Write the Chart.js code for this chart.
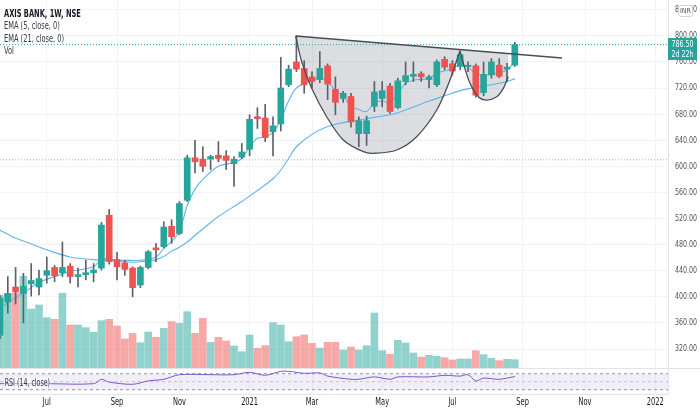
<!DOCTYPE html>
<html>
<head>
<meta charset="utf-8">
<title>AXIS BANK, 1W, NSE</title>
<script src="https://cdn.jsdelivr.net/npm/chart.js"></script>
<style>
  html, body { margin: 0; padding: 0; background: #fff; }
  #wrap { position: relative; width: 700px; height: 413px; overflow: hidden;
          font-family: 'Liberation Sans Narrow', 'DejaVu Sans Condensed', Roboto, sans-serif; }
  #priceChart { position: absolute; left: 0; top: 0; }
  #rsiBox { position: absolute; left: 0; top: 368px; width: 700px; height: 45px;
            border-top: 1px solid #e0e3eb; box-sizing: border-box; }
  .legend { position: absolute; left: 4px; font-size: 10px; line-height: 12px; color: #363a45; white-space: nowrap;
            transform: scaleX(0.74); transform-origin: left center; }
  .legend.title { font-weight: bold; color: #131722; }
  #inr { position: absolute; left: 678px; top: 5px; width: 13px; height: 10px; border: 1px solid #d1d4dc;
         border-radius: 3px; background: #fff; font-size: 7px; line-height: 10px; text-align: center; color: #50535e; }
  #rsiLabel { position: absolute; left: 4px; top: 377px; font-size: 10px; line-height: 12px; color: #363a45;
              background: rgba(255,255,255,0.55); padding: 0 1px; white-space: nowrap;
              transform: scaleX(0.7); transform-origin: left center; }
</style>
</head>
<body>
<div id="wrap">
  <canvas id="priceChart" width="700" height="368"></canvas>
  <div id="rsiBox"><canvas id="rsiChart" width="700" height="44"></canvas></div>
  <div class="legend title" style="top:8px">AXIS BANK, 1W, NSE</div>
  <div class="legend" style="top:20px">EMA (5, close, 0)</div>
  <div class="legend" style="top:33px">EMA (21, close, 0)</div>
  <div class="legend" style="top:45px">Vol</div>
  <div id="inr">INR</div>
  <div id="rsiLabel">RSI (14, close)</div>
</div>
<script>
var FONT = "'Liberation Sans Narrow', 'DejaVu Sans Condensed', Roboto, sans-serif";

/***** DATA : weekly bars, week 0 = 2020-05-25 *****/
var open  = [341,392,415,405,420,415,433,445,437,447,431,434,437,444,525,457,452,444,418,445,475,477,508,497,548,613,611,611,617,616,604,614,626,676,674,653,665,725,760,750,737,733,754,718,704,707,650,650,692,704,723,690,730,738,742,733,725,764,757,753,753,754,713,740,755,749,755];
var high  = [402,431,445,436,451,441,461,448,484,451,444,456,451,514,534,468,456,446,447,471,482,515,518,546,617,640,630,617,638,624,615,635,679,690,695,676,767,755,800,762,745,776,757,737,715,712,676,677,730,730,727,735,760,760,745,740,763,768,762,775,760,757,760,765,765,758,790];
var low   = [336,375,389,360,401,403,421,423,431,421,415,426,423,441,450,426,433,400,414,443,454,475,482,495,546,590,592,595,607,595,569,612,616,658,638,616,654,722,745,712,720,728,702,679,698,660,630,632,684,691,681,688,725,730,730,720,722,748,740,748,745,706,708,735,736,730,753];
var close = [398,405,408,416,425,428,440,432,445,431,434,437,441,510,454,446,442,414,445,469,472,507,492,543,613,607,600,615,612,609,611,622,672,673,644,662,720,749,749,725,730,750,726,698,712,668,670,670,714,716,684,731,739,741,737,737,760,752,746,771,755,709,741,760,738,752,786.5];
var volume = [87.6,89.6,90.4,110.4,70.8,75.6,60.4,58.4,89.6,51.6,51.6,48.4,42.8,56.8,58.4,50.4,34.8,41.6,30.4,43.2,36.8,47.6,55.6,53.6,67.6,41.6,59.6,30.8,36.8,32.4,26.4,19.6,39.6,23.6,26.8,54.4,51.6,31.6,37.6,39.6,29.6,24,30.8,30.8,21.6,25.2,21.6,26.8,66,20.8,16.4,33.2,30,18,13.2,15.2,14,12.4,9.6,10.8,10.8,20.8,16,11.6,8.8,10.4,10];

var ema5Weeks  = [0,3,5,7,9,12,13,14,16,18,20,21,22,23,24,25,26,28,30,31,32,33,34,35,36,37,38,40,41,42,43,44,45,46,47,48,49,50,51,52,53,55,56,57,58,59,60,61,62,64,65,66];
var ema5       = [383,406,422,431,439,446,458,457,456,456,461,474,485,500,540,565,580,600,606,612,630,643,645,652,672,700,720,732,735,730,716,708,692,687,684,697,700,698,712,727,732,735,743,746,750,755,752,742,740,743,748,760];
var ema21Weeks = [0,2,4,6,9,12,15,17,19,20,21,22,23,24,25,26,28,31,33,35,36,37,38,40,42,44,46,48,50,51,53,55,57,59,61,63,65,66];
var ema21      = [502,490,481,472,461,457,455,453,455,457,462,470,476,484,494,504,523,546,563,581,594,612,630,649,661,667,671,675,679,682,691,700,708,716,721,725,730,734];

var rsiWeeks = [0,6,12,13,14,17,19,21,23,27,30,32,34,36,37,39,41,42,45,46,48,50,51,55,57,59,60,61,62,64,66];
var rsi      = [45,45,45,56,49,43.5,52,56,67.5,67.5,67.5,73.5,66,76,76,71,72,64,56,56,62,56,62,62,66,64,67.5,52,59,56,63];
var rsiBands = [70, 50, 30];

var tickWeeks  = [6, 15, 23, 32, 40, 49, 58, 67, 75, 84];
var tickLabels = ['Jul', 'Sep', 'Nov', '2021', 'Mar', 'May', 'Jul', 'Sep', 'Nov', '2022'];

// drawing: cup & handle, rim line, horizontal level
var trendWeeks   = [37.91, 72.05];
var trendPrices  = [799.7, 766];
var cupWeeks     = [37.91, 38.68, 39.96, 41.88, 44.01, 46.58, 48.08, 50.86, 53.42, 55.99, 57.69, 58.97];
var cupPrices    = [799.7, 760.3, 719.5, 676, 640.3, 622.4, 620, 625, 645.4, 686.3, 732.3, 777.2];
var handleWeeks  = [58.97, 59.4, 60.26, 61.32, 62.4, 63.68, 64.53, 65.17];
var handlePrices = [777.2, 757.9, 727.2, 706.7, 701.6, 706.7, 719.5, 737.3];
var levelPrice = 610;

/***** SETTINGS *****/
var X_MIN = 0, X_MAX = 85.64;
var UP = '#26a69a', DOWN = '#ef5350';
var SQUEEZE = 0.74;   // the reference text is narrow
var weeks = close.map(function (c, i) { return i; });
var isUp = weeks.map(function (i) { return close[i] >= open[i]; });
var pts = function (ws, vs) { return ws.map(function (w, i) { return {x: w, y: vs[i]}; }); };

Chart.defaults.font.family = FONT;
Chart.defaults.animation = false;

function trendAt(w) {
    var t = (w - trendWeeks[0]) / (trendWeeks[1] - trendWeeks[0]);
    return trendPrices[0] + t * (trendPrices[1] - trendPrices[0]);
}

function smoothPath(ctx, p) {
    ctx.moveTo(p[0].x, p[0].y);
    for (var i = 0; i < p.length - 1; i++) {
        var p0 = p[Math.max(i - 1, 0)], p1 = p[i], p2 = p[i + 1], p3 = p[Math.min(i + 2, p.length - 1)];
        ctx.bezierCurveTo(p1.x + (p2.x - p0.x) / 6, p1.y + (p2.y - p0.y) / 6,
                          p2.x - (p3.x - p1.x) / 6, p2.y - (p3.y - p1.y) / 6, p2.x, p2.y);
    }
}

function squeezedText(ctx, text, x, y, align) {
    ctx.save();
    ctx.translate(x, y);
    ctx.scale(SQUEEZE, 1);
    ctx.textAlign = align;
    ctx.textBaseline = 'middle';
    ctx.fillText(text, 0, 0);
    ctx.restore();
}

function drawCup(chart, mode) {
    var ctx = chart.ctx, area = chart.chartArea, x = chart.scales.x, y = chart.scales.y;
    ctx.save();
    ctx.beginPath();
    ctx.rect(area.left, area.top, area.width, area.height);
    ctx.clip();
    [[cupWeeks, cupPrices], [handleWeeks, handlePrices]].forEach(function (shape) {
        var ws = shape[0], ps = shape[1];
        var p = ws.map(function (w, i) { return {x: x.getPixelForValue(w), y: y.getPixelForValue(ps[i])}; });
        ctx.beginPath();
        smoothPath(ctx, p);
        if (mode === 'fill') {
            var last = ws[ws.length - 1];
            ctx.lineTo(x.getPixelForValue(last), y.getPixelForValue(trendAt(last)));
            ctx.lineTo(x.getPixelForValue(ws[0]), y.getPixelForValue(trendAt(ws[0])));
            ctx.closePath();
            ctx.fillStyle = 'rgba(120,123,134,0.26)';
            ctx.fill();
        } else {
            ctx.strokeStyle = '#4a4d57';
            ctx.lineWidth = 1.3;
            ctx.stroke();
        }
    });
    ctx.restore();
}

var cupPlugin = {
    id: 'cupHandle',
    beforeDatasetsDraw: function (chart) { drawCup(chart, 'fill'); },
    afterDatasetsDraw: function (chart) { drawCup(chart, 'stroke'); }
};

// price labels on the right axis, then the last price tag over them
var priceAxisPlugin = {
    id: 'priceAxis',
    afterDraw: function (chart) {
        var ctx = chart.ctx, area = chart.chartArea, y = chart.scales.y;
        ctx.save();
        ctx.font = '9.5px ' + FONT;
        ctx.fillStyle = '#50535e';
        y.ticks.forEach(function (t) {
            squeezedText(ctx, t.value.toFixed(2), area.right + 7, y.getPixelForValue(t.value), 'left');
        });
        var last = close[close.length - 1];
        var py = Math.round(y.getPixelForValue(last));
        ctx.fillStyle = UP;
        ctx.fillRect(area.right, py - 7, 29, 22);
        ctx.fillStyle = '#fff';
        squeezedText(ctx, last.toFixed(2), area.right + 14.5, py, 'center');
        squeezedText(ctx, '2d 22h', area.right + 14.5, py + 10, 'center');
        ctx.restore();
    }
};

var timeAxisPlugin = {
    id: 'timeAxis',
    afterDraw: function (chart) {
        var ctx = chart.ctx, x = chart.scales.x;
        ctx.save();
        ctx.font = '10px ' + FONT;
        ctx.fillStyle = '#131722';
        tickWeeks.forEach(function (w, i) {
            squeezedText(ctx, tickLabels[i], x.getPixelForValue(w), x.top + 8, 'center');
        });
        ctx.restore();
    }
};

var xGrid = {
    type: 'linear', min: X_MIN, max: X_MAX, offset: false,
    afterBuildTicks: function (s) { s.ticks = tickWeeks.map(function (v) { return {value: v}; }); },
    grid: {color: '#f0f3fa', drawTicks: false, offset: false},
    border: {display: false},
    ticks: {display: false}
};

/***** PRICE PANE *****/
var priceChart = new Chart(document.getElementById('priceChart'), {
    type: 'bar',
    data: {
        datasets: [
            {
                type: 'line', data: pts(trendWeeks, trendPrices),
                borderColor: '#4a4d57', borderWidth: 1.3, pointRadius: 0, order: 0
            },
            {
                label: 'body', data: weeks.map(function (i) { return {x: i, y: [open[i], close[i]]}; }),
                backgroundColor: isUp.map(function (u) { return u ? UP : DOWN; }),
                barThickness: 6, minBarLength: 1, grouped: false, order: 1
            },
            {
                label: 'wick', data: weeks.map(function (i) { return {x: i, y: [low[i], high[i]]}; }),
                backgroundColor: '#5d606b', barThickness: 1, grouped: false, order: 2
            },
            {
                type: 'line', label: 'EMA 5', data: pts(ema5Weeks, ema5),
                borderColor: '#5fb4e5', borderWidth: 1.1, pointRadius: 0, tension: 0.35, order: 3
            },
            {
                type: 'line', label: 'EMA 21', data: pts(ema21Weeks, ema21),
                borderColor: '#5fb4e5', borderWidth: 1.1, pointRadius: 0, tension: 0.35, order: 3
            },
            {
                type: 'line', data: pts([X_MIN, X_MAX], [levelPrice, levelPrice]),
                borderColor: '#b2b5be', borderWidth: 1, borderDash: [1, 2], pointRadius: 0, order: 9
            },
            {
                type: 'line', data: pts([X_MIN, X_MAX], [close[close.length - 1], close[close.length - 1]]),
                borderColor: UP, borderWidth: 1, borderDash: [1, 2], pointRadius: 0, order: 9
            },
            {
                label: 'Vol', yAxisID: 'yVol', data: weeks.map(function (i) { return {x: i, y: volume[i]}; }),
                backgroundColor: isUp.map(function (u) { return u ? 'rgba(38,166,154,0.5)' : 'rgba(239,83,80,0.5)'; }),
                barThickness: 7, grouped: false, order: 10
            }
        ]
    },
    options: {
        responsive: false,
        events: [],
        layout: {padding: 0},
        plugins: {legend: {display: false}, tooltip: {enabled: false}},
        scales: {
            x: Object.assign({}, xGrid, {
                afterFit: function (s) { s.height = 0; s.paddingLeft = 0; s.paddingRight = 0; }
            }),
            y: {
                position: 'right', min: 290.9, max: 854.9,
                ticks: {display: false, stepSize: 40, includeBounds: false},
                grid: {color: '#f0f3fa', drawTicks: false},
                border: {color: '#e0e3eb'},
                afterFit: function (s) { s.width = 32; s.paddingTop = 0; s.paddingBottom = 0; }
            },
            yVol: {display: false, min: 0, max: 441.6}
        }
    },
    plugins: [cupPlugin, priceAxisPlugin]
});

/***** RSI PANE + TIME AXIS *****/
var rsiChart = new Chart(document.getElementById('rsiChart'), {
    type: 'line',
    data: {
        datasets: [
            {
                label: 'RSI', data: pts(rsiWeeks, rsi),
                borderColor: '#7e57c2', borderWidth: 1, pointRadius: 0, tension: 0.3
            },
            {
                data: pts([X_MIN, X_MAX], [rsiBands[0], rsiBands[0]]),
                borderColor: '#9598a1', borderWidth: 1, borderDash: [3, 3], pointRadius: 0,
                fill: {target: 2, above: 'rgba(126,87,194,0.10)', below: 'rgba(126,87,194,0.10)'}
            },
            {
                data: pts([X_MIN, X_MAX], [rsiBands[2], rsiBands[2]]),
                borderColor: '#9598a1', borderWidth: 1, borderDash: [3, 3], pointRadius: 0
            },
            {
                data: pts([X_MIN, X_MAX], [rsiBands[1], rsiBands[1]]),
                borderColor: 'rgba(149,152,161,0.5)', borderWidth: 1, borderDash: [3, 3], pointRadius: 0
            }
        ]
    },
    options: {
        responsive: false,
        events: [],
        layout: {padding: 0},
        plugins: {legend: {display: false}, tooltip: {enabled: false}},
        scales: {
            x: Object.assign({}, xGrid, {
                border: {display: true, color: '#e0e3eb'},
                afterFit: function (s) { s.height = 19; s.paddingLeft = 0; s.paddingRight = 0; }
            }),
            y: {
                position: 'right', min: 19.25, max: 81.75,
                ticks: {display: false},
                grid: {display: false},
                border: {color: '#e0e3eb'},
                afterFit: function (s) { s.width = 32; s.paddingTop = 0; s.paddingBottom = 0; }
            }
        }
    },
    plugins: [timeAxisPlugin]
});
</script>
</body>
</html>
